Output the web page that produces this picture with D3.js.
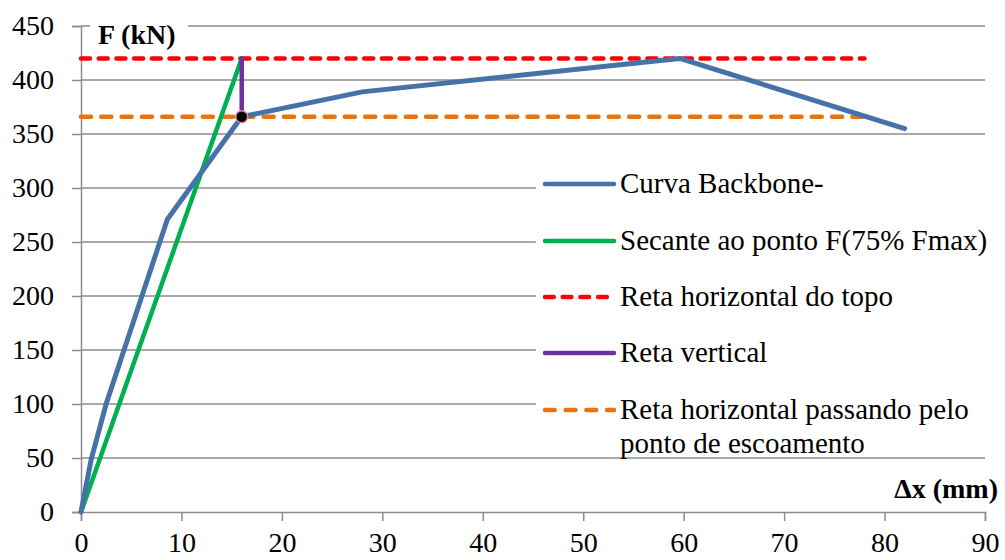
<!DOCTYPE html>
<html><head><meta charset="utf-8">
<script src="https://cdn.jsdelivr.net/npm/d3@7"></script>
</head><body style="margin:0;background:#fff">
<script>
const backboneX = [0, 1.0, 2.5, 8.6, 16, 28, 59.6, 82];
const backboneY = [0, 48, 100, 271, 366, 389, 420, 355];
const secantX = [0, 16];
const secantY = [0, 420];
const topLineX = [0, 78];
const topLineY = [420, 420];
const verticalX = [16, 16];
const verticalY = [366, 420];
const yieldLineX = [0, 78];
const yieldLineY = [366, 366];
const yieldPoint = [16, 366];
const xTicks = [0,10,20,30,40,50,60,70,80,90];
const yTicks = [0,50,100,150,200,250,300,350,400,450];
const legendLabels = [["Curva Backbone-"],["Secante ao ponto F(75% Fmax)"],["Reta horizontal do topo"],["Reta vertical"],["Reta horizontal passando pelo","ponto de escoamento"]];

const FONT="Liberation Serif";
const W=1005,H=560;
const svg=d3.select("body").append("svg").attr("width",W).attr("height",H).style("display","block");
const x=d3.scaleLinear().domain([0,90]).range([81,985]);
const y=d3.scaleLinear().domain([0,450]).range([512,26]);
const grid="#8c8c8c";

svg.append("g").selectAll("line").data(yTicks.filter(d=>d>0)).join("line")
  .attr("x1",x(0)).attr("x2",x(90)).attr("y1",d=>y(d)).attr("y2",d=>y(d))
  .attr("stroke",grid).attr("stroke-width",1.5);

const ya=svg.append("g").attr("transform",`translate(${x(0)},0)`)
  .call(d3.axisLeft(y).tickValues(yTicks).tickSize(9).tickPadding(18));
const xa=svg.append("g").attr("transform",`translate(0,${y(0)})`)
  .call(d3.axisBottom(x).tickValues(xTicks).tickSize(9).tickPadding(11));
[ya,xa].forEach(a=>{a.attr("font-family",FONT).attr("font-size",28);
  a.select(".domain").attr("stroke",grid).attr("stroke-width",1.5);
  a.selectAll(".tick line").attr("stroke",grid).attr("stroke-width",1.5);
  a.selectAll("text").attr("fill","#000");});

const line=d3.line().x(d=>x(d[0])).y(d=>y(d[1]));
const zip=(a,b)=>a.map((v,i)=>[v,b[i]]);

svg.append("rect").attr("x",536).attr("y",160).attr("width",450).attr("height",290).attr("fill","#fff");

svg.append("rect").attr("x",90).attr("y",14).attr("width",98).attr("height",24).attr("fill","#fff");
svg.append("text").attr("x",98).attr("y",44).attr("font-family",FONT).attr("font-size",28).attr("font-weight","bold").text("F (kN)");
svg.append("text").attr("x",998).attr("y",498).attr("text-anchor","end").attr("font-family",FONT).attr("font-size",28).attr("font-weight","bold").text("Δx (mm)");

const series=[
 {d:zip(topLineX,topLineY),c:"#ff0000",w:4.5,dash:"9,8.7"},
 {d:zip(yieldLineX,yieldLineY),c:"#e8740f",w:4.5,dash:"10,10.3"},
 {d:zip(secantX,secantY),c:"#00b050",w:4.5,dash:null},
 {d:zip(backboneX,backboneY),c:"#4672aa",w:5,dash:null},
 {d:zip(verticalX,verticalY),c:"#7030a0",w:4.5,dash:null},
];
series.forEach(s=>{svg.append("path").attr("d",line(s.d)).attr("fill","none").attr("stroke",s.c)
  .attr("stroke-width",s.w).attr("stroke-linejoin","round").attr("stroke-linecap","round")
  .attr("stroke-dasharray",s.dash);});

svg.append("circle").attr("cx",x(yieldPoint[0])).attr("cy",y(yieldPoint[1])).attr("r",6)
  .attr("fill","#000").attr("stroke","#d99594").attr("stroke-width",1.5);

const lg=[{c:"#4672aa",dash:null,e:614},{c:"#00b050",dash:null,e:614},{c:"#ff0000",dash:"8.7,9",e:609},{c:"#7030a0",dash:null,e:614},{c:"#e8740f",dash:"9.7,11",e:614}];
const ly=[184,241,297,353,410];
lg.forEach((l,i)=>{
  svg.append("line").attr("x1",545).attr("x2",l.e).attr("y1",ly[i]).attr("y2",ly[i])
   .attr("stroke",l.c).attr("stroke-width",4.5).attr("stroke-linecap","round").attr("stroke-dasharray",l.dash);
  legendLabels[i].forEach((t,j)=>svg.append("text").attr("x",620).attr("y",ly[i]+9+j*34)
   .attr("font-family",FONT).attr("font-size",29).text(t));
});
</script>
</body></html>
